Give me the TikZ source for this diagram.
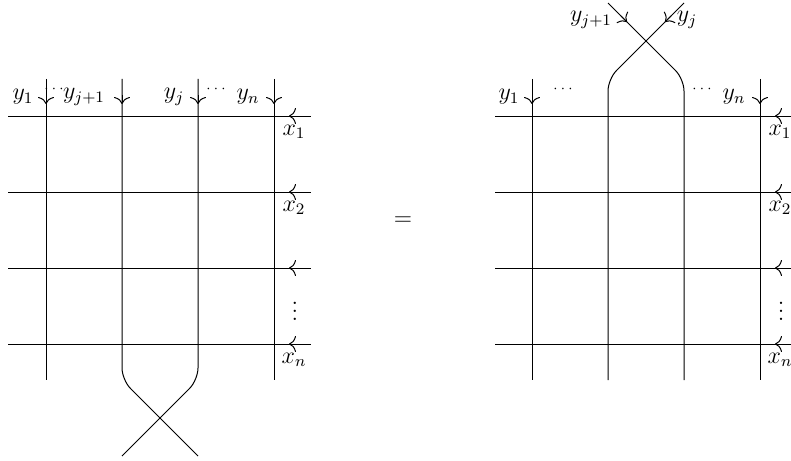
\documentclass[tikz,border=0pt]{standalone}
\usetikzlibrary{arrows.meta}
\begin{document}
\begin{tikzpicture}[x=0.5pt,y=-0.5pt,
  ln/.style={line width=0.5pt},
  tipmark/.style={line width=0.5pt,-{Computer Modern Rightarrow[width=8pt,length=3.5pt]}},
  lab/.style={inner sep=0pt,font=\fontsize{12}{14}\selectfont},
  dotlab/.style={inner sep=0pt,font=\fontsize{7}{8}\selectfont}]
\useasboundingbox (0,0) rectangle (791,460);
\clip (0,0) rectangle (791,460);
% ---------- left diagram ----------
\foreach \y/\n in {116/1,192/2,268/3,344/4}{
  \coordinate (Lh\n a) at (8,\y); \coordinate (Lh\n b) at (311,\y);
  \draw[ln] (Lh\n a) -- (Lh\n b);
  \draw[tipmark] (297,\y) -- (289,\y);
}
\coordinate (La1) at (46,79);  \coordinate (Lb1) at (46,380);
\coordinate (La4) at (274,79); \coordinate (Lb4) at (274,380);
\draw[ln] (La1) -- (Lb1);
\draw[ln] (La4) -- (Lb4);
\coordinate (La2) at (122,79); \coordinate (Lk2) at (122,380); \coordinate (Le2) at (198,456);
\coordinate (La3) at (198,79); \coordinate (Lk3) at (198,380); \coordinate (Le3) at (122,456);
\draw[ln,rounded corners=6pt] (La2) -- (Lk2) -- (Le2);
\draw[ln,rounded corners=6pt] (La3) -- (Lk3) -- (Le3);
\foreach \x in {46,122,198,274}{\draw[tipmark] (\x,95) -- (\x,104);}
\node[lab] (ly1) at (23,97) {$y_1$};
\node[dotlab] (ld1) at (54,89) {$\cdots$};
\node[lab] (lyj1) at (84,97) {$y_{j+1}$};
\node[lab] (lyj) at (174,97) {$y_j$};
\node[dotlab] (ld2) at (216,89) {$\cdots$};
\node[lab] (lyn) at (248,97) {$y_n$};
\node[lab] (lx1) at (294,132) {$x_1$};
\node[lab] (lx2) at (294,208) {$x_2$};
\node[lab] (lvd) at (295,305) {$\vdots$};
\node[lab] (lxn) at (294,360) {$x_n$};
% ---------- equals ----------
\node[lab] (eq) at (403,221) {$=$};
% ---------- right diagram ----------
\foreach \y/\n in {116/1,192/2,268/3,344/4}{
  \coordinate (Rh\n a) at (495,\y); \coordinate (Rh\n b) at (797,\y);
  \draw[ln] (Rh\n a) -- (Rh\n b);
  \draw[tipmark] (783,\y) -- (775,\y);
}
\coordinate (Ra1) at (532,79);  \coordinate (Rb1) at (532,380);
\coordinate (Ra4) at (760,79); \coordinate (Rb4) at (760,380);
\draw[ln] (Ra1) -- (Rb1);
\draw[ln] (Ra4) -- (Rb4);
\coordinate (Rs2) at (684,3); \coordinate (Rk2) at (608,79); \coordinate (Rb2) at (608,380);
\coordinate (Rs3) at (608,3); \coordinate (Rk3) at (684,79); \coordinate (Rb3) at (684,380);
\draw[ln,rounded corners=6pt] (Rs2) -- (Rk2) -- (Rb2);
\draw[ln,rounded corners=6pt] (Rs3) -- (Rk3) -- (Rb3);
\foreach \x in {532,760}{\draw[tipmark] (\x,95) -- (\x,104);}
\draw[tipmark] (621,16) -- (627,22);
\draw[tipmark] (671,16) -- (665,22);
\node[lab] (ry1) at (509,97) {$y_1$};
\node[dotlab] (rd1) at (563,89) {$\cdots$};
\node[dotlab] (rd2) at (702,89) {$\cdots$};
\node[lab] (ryn) at (734,97) {$y_n$};
\node[lab] (ryj1) at (591,20) {$y_{j+1}$};
\node[lab] (ryj) at (687,20) {$y_j$};
\node[lab] (rx1) at (780,132) {$x_1$};
\node[lab] (rx2) at (780,208) {$x_2$};
\node[lab] (rvd) at (781,305) {$\vdots$};
\node[lab] (rxn) at (780,360) {$x_n$};
\end{tikzpicture}
\end{document}
